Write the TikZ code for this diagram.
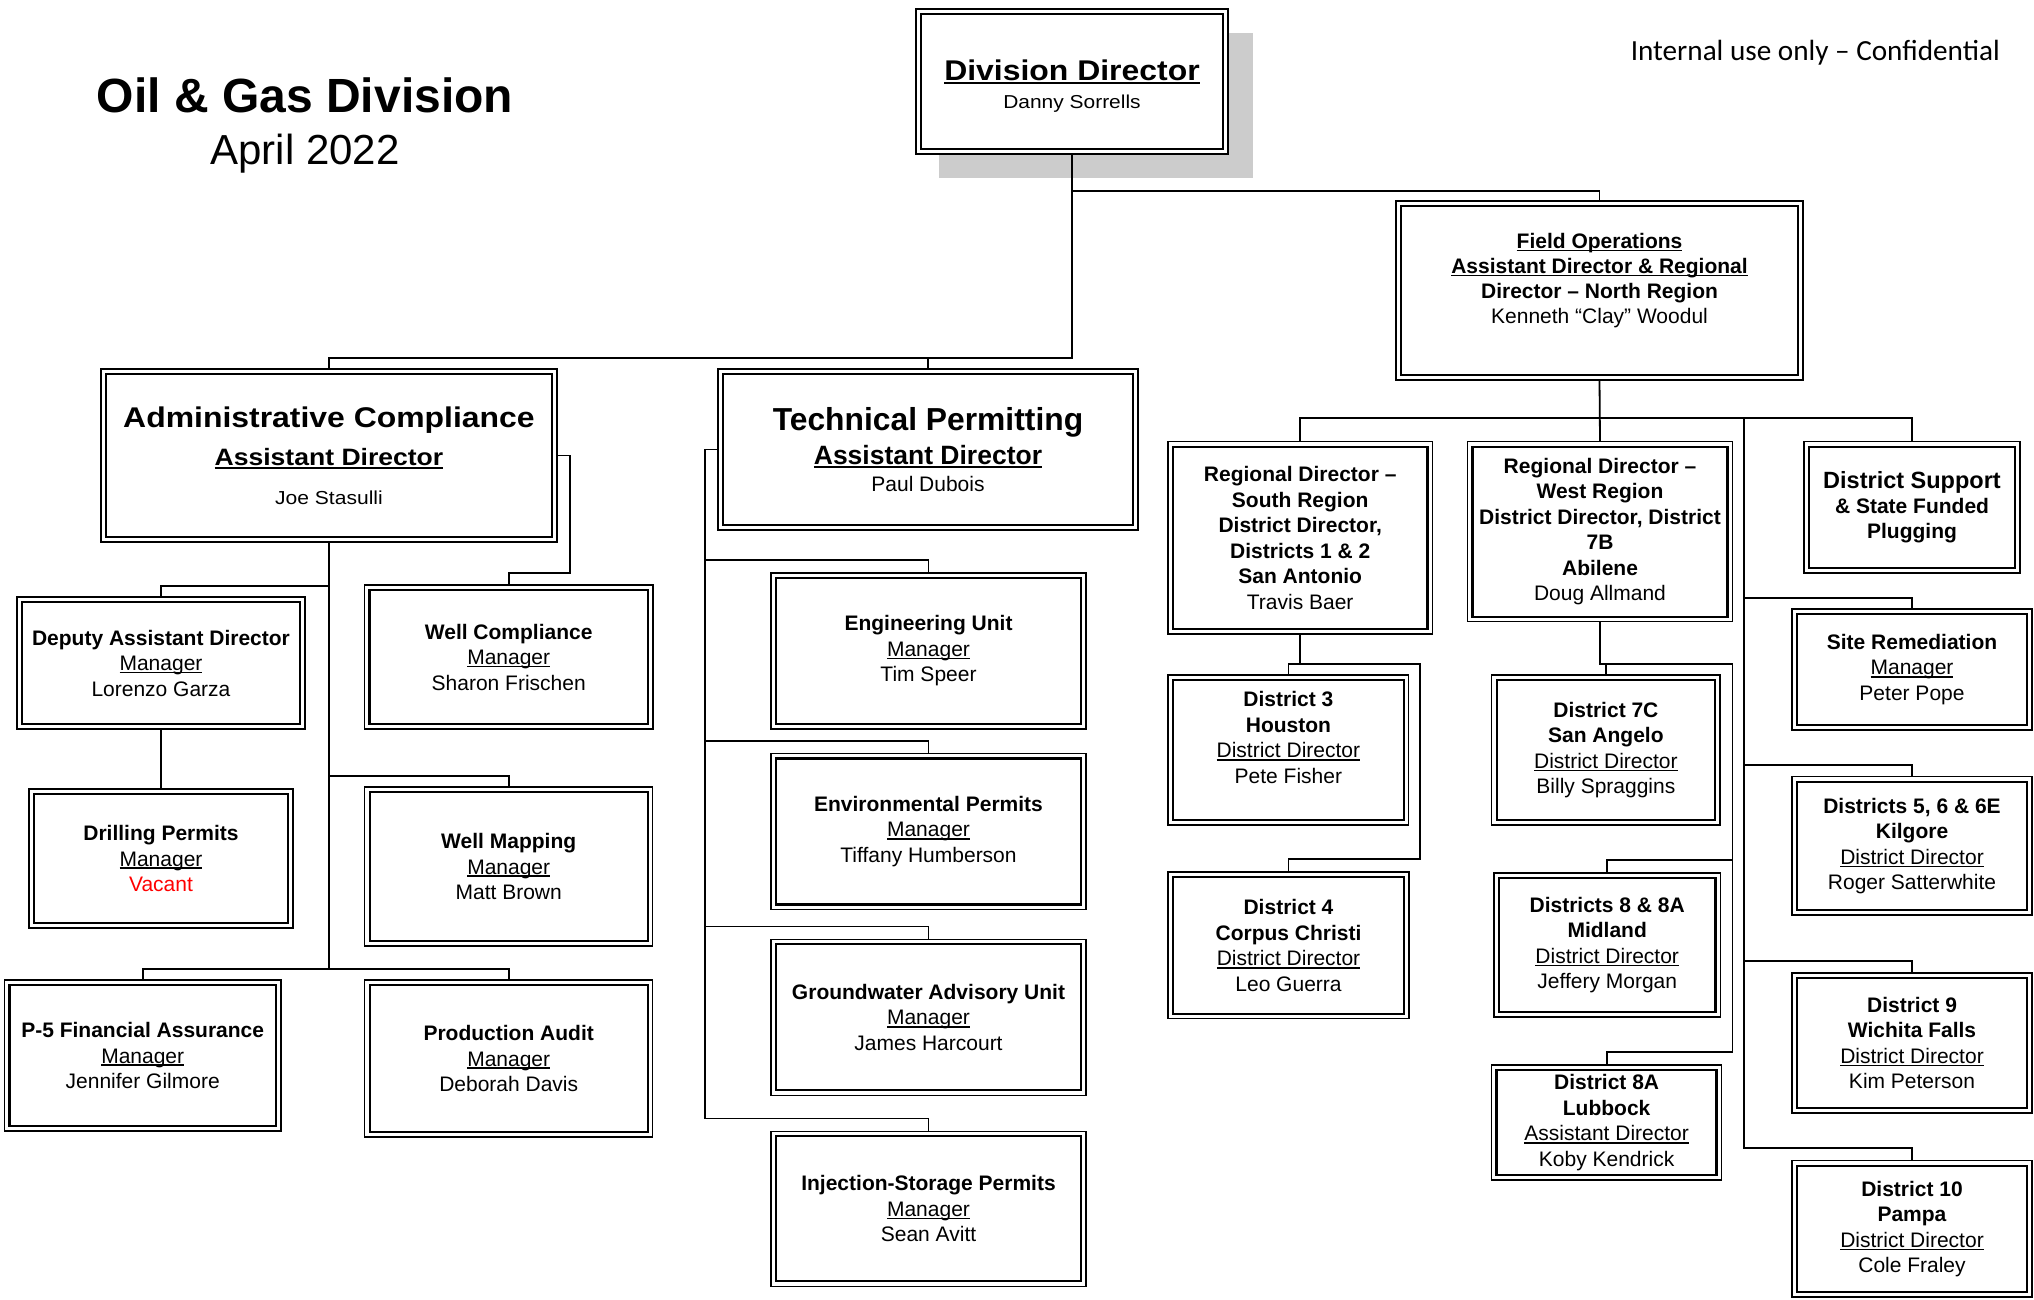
\documentclass[tikz,border=0pt]{standalone}
\usepackage{fontspec}
\setmainfont{Liberation Sans}
\newfontfamily\widesans[FakeStretch=1.12]{Liberation Sans}
\newfontfamily\notefont{Carlito}

% underline drawn close under the baseline, crossing descenders
\newsavebox\ulinebox
\newcommand\uln[1]{\sbox\ulinebox{#1}\rlap{\rule[-0.14em]{\wd\ulinebox}{0.07em}}\usebox\ulinebox}

\definecolor{shadowgray}{HTML}{CCCCCC}
\definecolor{vacantred}{HTML}{FF0000}

\tikzset{
  conn/.style={line width=1.8pt},
  obox/.style={draw, line width=1.4pt, fill=white, inner sep=0pt, align=center,
    font=\fontsize{21}{25.5}\selectfont,
    path picture={\draw[line width=2.3pt]
      ([shift={(5pt,-5pt)}]path picture bounding box.north west) rectangle
      ([shift={(-5pt,5pt)}]path picture bounding box.south east);}},
}

\begin{document}
\begin{tikzpicture}[x=1pt,y=-1pt]
\useasboundingbox (0,0) rectangle (2034,1300);

% heading
\node[anchor=base, inner sep=0pt, font=\bfseries\fontsize{48}{50}\selectfont] (title) at (305,112.7) {Oil \& Gas Division};
\node[anchor=base, inner sep=0pt, font=\fontsize{42}{44}\selectfont] (date) at (305,165) {April 2022};
\node[anchor=base east, inner sep=0pt, font=\notefont\fontsize{29.2}{30}\selectfont] (note) at (2000,60.7) {Internal use only – Confidential};

% director with drop shadow
\fill[shadowgray] (939,33) rectangle (1253,178);
\node[obox, minimum width=312pt, minimum height=145pt, font=\widesans\fontsize{18.7}{26.7}\selectfont] (dd) at (1072,81.5)
  {\mbox{}\\[3pt]{\bfseries\fontsize{28.5}{26.7}\selectfont\uln{Division Director}}\\[1.2pt] Danny Sorrells};

% second level
\node[obox, minimum width=456pt, minimum height=173pt, font=\widesans\fontsize{18.8}{38}\selectfont] (admin) at (329,455.5)
  {{\bfseries\fontsize{28.5}{38}\selectfont Administrative Compliance}\\
   {\bfseries\fontsize{23.7}{38}\selectfont\uln{Assistant Director}}\\[1pt] Joe Stasulli};
\node[obox, minimum width=420pt, minimum height=161pt, font=\fontsize{21}{26.7}\selectfont] (tp) at (928,449.5)
  {{\bfseries\fontsize{31.8}{26.7}\selectfont Technical Permitting}\\[7.3pt]
   {\bfseries\fontsize{26.5}{26.7}\selectfont\uln{Assistant Director}}\\ Paul Dubois};
\node[obox, minimum width=407pt, minimum height=179pt, font=\fontsize{21}{25}\selectfont] (fo) at (1599.5,290.5)
  {\textbf{\uln{Field Operations}}\\ \textbf{\uln{Assistant Director \& Regional}}\\
   \textbf{Director – North Region}\\ Kenneth “Clay” Woodul\\ \mbox{}};

% administrative compliance units
\node[obox, minimum width=288pt, minimum height=132pt] (dep) at (161,663)
  {\textbf{Deputy Assistant Director}\\ \uln{Manager}\\ Lorenzo Garza};
\node[obox, minimum width=288.5pt, minimum height=144pt] (wc) at (508.7,657)
  {\textbf{Well Compliance}\\ \uln{Manager}\\ Sharon Frischen};
\node[obox, minimum width=264pt, minimum height=139pt] (drill) at (161,858.5)
  {\textbf{Drilling Permits}\\ \uln{Manager}\\ \textcolor{vacantred}{Vacant}};
\node[obox, minimum width=288pt, minimum height=159pt] (wm) at (508.7,866.5)
  {\textbf{Well Mapping}\\ \uln{Manager}\\ Matt Brown};
\node[obox, minimum width=276.7pt, minimum height=151pt] (p5) at (142.7,1055.5)
  {\textbf{P-5 Financial Assurance}\\ \uln{Manager}\\ Jennifer Gilmore};
\node[obox, minimum width=288pt, minimum height=157pt] (pa) at (508.7,1058.5)
  {\textbf{Production Audit}\\ \uln{Manager}\\ Deborah Davis};

% technical permitting units
\node[obox, minimum width=315pt, minimum height=156pt] (eng) at (928.5,651)
  {\textbf{Engineering Unit}\\ \uln{Manager}\\ Tim Speer};
\node[obox, minimum width=315pt, minimum height=156pt] (env) at (928.5,831.5)
  {\textbf{Environmental Permits}\\ \uln{Manager}\\ Tiffany Humberson};
\node[obox, minimum width=315pt, minimum height=156pt] (gau) at (928.5,1017.2)
  {\textbf{Groundwater Advisory Unit}\\ \uln{Manager}\\ James Harcourt};
\node[obox, minimum width=315pt, minimum height=155pt] (isp) at (928.5,1208.7)
  {\textbf{Injection-Storage Permits}\\ \uln{Manager}\\ Sean Avitt};

% field operations: regions and districts
\node[obox, minimum width=264.4pt, minimum height=192.3pt] (south) at (1300.2,537.9)
  {\textbf{Regional Director –}\\ \textbf{South Region}\\ \textbf{District Director,}\\
   \textbf{Districts 1 \& 2}\\ \textbf{San Antonio}\\ Travis Baer};
\node[obox, minimum width=265pt, minimum height=180pt] (west) at (1600,531.7)
  {\textbf{Regional Director –}\\ \textbf{West Region}\\ \textbf{District Director, District}\\
   \textbf{7B}\\ \textbf{Abilene}\\ Doug Allmand};
\node[obox, minimum width=216pt, minimum height=131.3pt, font=\fontsize{21}{25}\selectfont] (ds) at (1912,507.4)
  {{\bfseries\fontsize{23.5}{25}\selectfont District Support}\\ \textbf{\& State Funded}\\ \textbf{Plugging}};
\node[obox, minimum width=240pt, minimum height=121pt] (sr) at (1912,669.5)
  {\textbf{Site Remediation}\\ \uln{Manager}\\ Peter Pope};
\node[obox, minimum width=240pt, minimum height=138.3pt] (kil) at (1912,845.9)
  {\textbf{Districts 5, 6 \& 6E}\\ \textbf{Kilgore}\\ \uln{District Director}\\ Roger Satterwhite};
\node[obox, minimum width=240pt, minimum height=140pt] (wich) at (1912,1043)
  {\textbf{District 9}\\ \textbf{Wichita Falls}\\ \uln{District Director}\\ Kim Peterson};
\node[obox, minimum width=240pt, minimum height=136.3pt] (pampa) at (1912,1228.9)
  {\textbf{District 10}\\ \textbf{Pampa}\\ \uln{District Director}\\ Cole Fraley};
\node[obox, minimum width=240.7pt, minimum height=150pt] (d3) at (1288.4,750)
  {\textbf{District 3}\\ \textbf{Houston}\\ \uln{District Director}\\ Pete Fisher\\ \mbox{}};
\node[obox, minimum width=241pt, minimum height=146.7pt] (d4) at (1288.5,945.4)
  {\textbf{District 4}\\ \textbf{Corpus Christi}\\ \uln{District Director}\\ Leo Guerra};
\node[obox, minimum width=228.3pt, minimum height=150pt] (d7c) at (1605.9,750)
  {\textbf{District 7C}\\ \textbf{San Angelo}\\ \uln{District Director}\\ Billy Spraggins};
\node[obox, minimum width=226.5pt, minimum height=144pt] (d8) at (1607.2,945)
  {\textbf{Districts 8 \& 8A}\\ \textbf{Midland}\\ \uln{District Director}\\ Jeffery Morgan};
\node[obox, minimum width=230pt, minimum height=115pt] (d8a) at (1606.6,1122.5)
  {\textbf{District 8A}\\ \textbf{Lubbock}\\ \uln{Assistant Director}\\ Koby Kendrick};

% connectors from the director
\draw[conn] (dd.south) -- ++(0,203) -| (admin.north);
\draw[conn] (dd.south) -- ++(0,203) -| (tp.north);
\draw[conn] (dd.south) -- ++(0,36) -| (fo.north);

% administrative compliance
\draw[conn] (admin.south) -- ++(0,43) -| (dep.north);
\draw[conn] (admin.south) -- ++(0,233) -| (wm.north);
\draw[conn] (admin.south) -- ++(0,426) -| (p5.north);
\draw[conn] (admin.south) -- ++(0,426) -| (pa.north);
\draw[conn] (admin.east) -- ++(12,0) -- ++(0,117.5) -| (wc.north);
\draw[conn] (dep.south) -- (drill.north);

% technical permitting
\draw[conn] (tp.west) -- ++(-12,0) |- ([yshift=12pt]eng.north) -- (eng.north);
\draw[conn] (tp.west) -- ++(-12,0) |- ([yshift=12pt]env.north) -- (env.north);
\draw[conn] (tp.west) -- ++(-12,0) |- ([yshift=12pt]gau.north) -- (gau.north);
\draw[conn] (tp.west) -- ++(-12,0) |- ([yshift=12pt]isp.north) -- (isp.north);

% field operations
\draw[conn] (fo.south) -- ++(0,37) -| (south.north);
\draw[conn] (fo.south) -- (west.north);
\draw[conn] (fo.south) -- ++(0,37) -| (ds.north);
\draw[conn] (fo.south) -- ++(0,37) -- ++(144.5,0) |- ([yshift=10pt]sr.north) -- (sr.north);
\draw[conn] (fo.south) -- ++(0,37) -- ++(144.5,0) |- ([yshift=11pt]kil.north) -- (kil.north);
\draw[conn] (fo.south) -- ++(0,37) -- ++(144.5,0) |- ([yshift=11pt]wich.north) -- (wich.north);
\draw[conn] (fo.south) -- ++(0,37) -- ++(144.5,0) |- ([yshift=11.7pt]pampa.north) -- (pampa.north);

% south region districts
\draw[conn] (south.south) -- ++(0,29) -| (d3.north);
\draw[conn] (south.south) -- ++(0,29) -- ++(120,0) |- ([yshift=12pt]d4.north) -- (d4.north);

% west region districts
\draw[conn] (west.south) -- ++(0,41.3) -| (d7c.north);
\draw[conn] (west.south) -- ++(0,41.3) -- ++(132.5,0) |- ([yshift=12pt]d8.north) -- (d8.north);
\draw[conn] (west.south) -- ++(0,41.3) -- ++(132.5,0) |- ([yshift=12pt]d8a.north) -- (d8a.north);
\end{tikzpicture}
\end{document}
